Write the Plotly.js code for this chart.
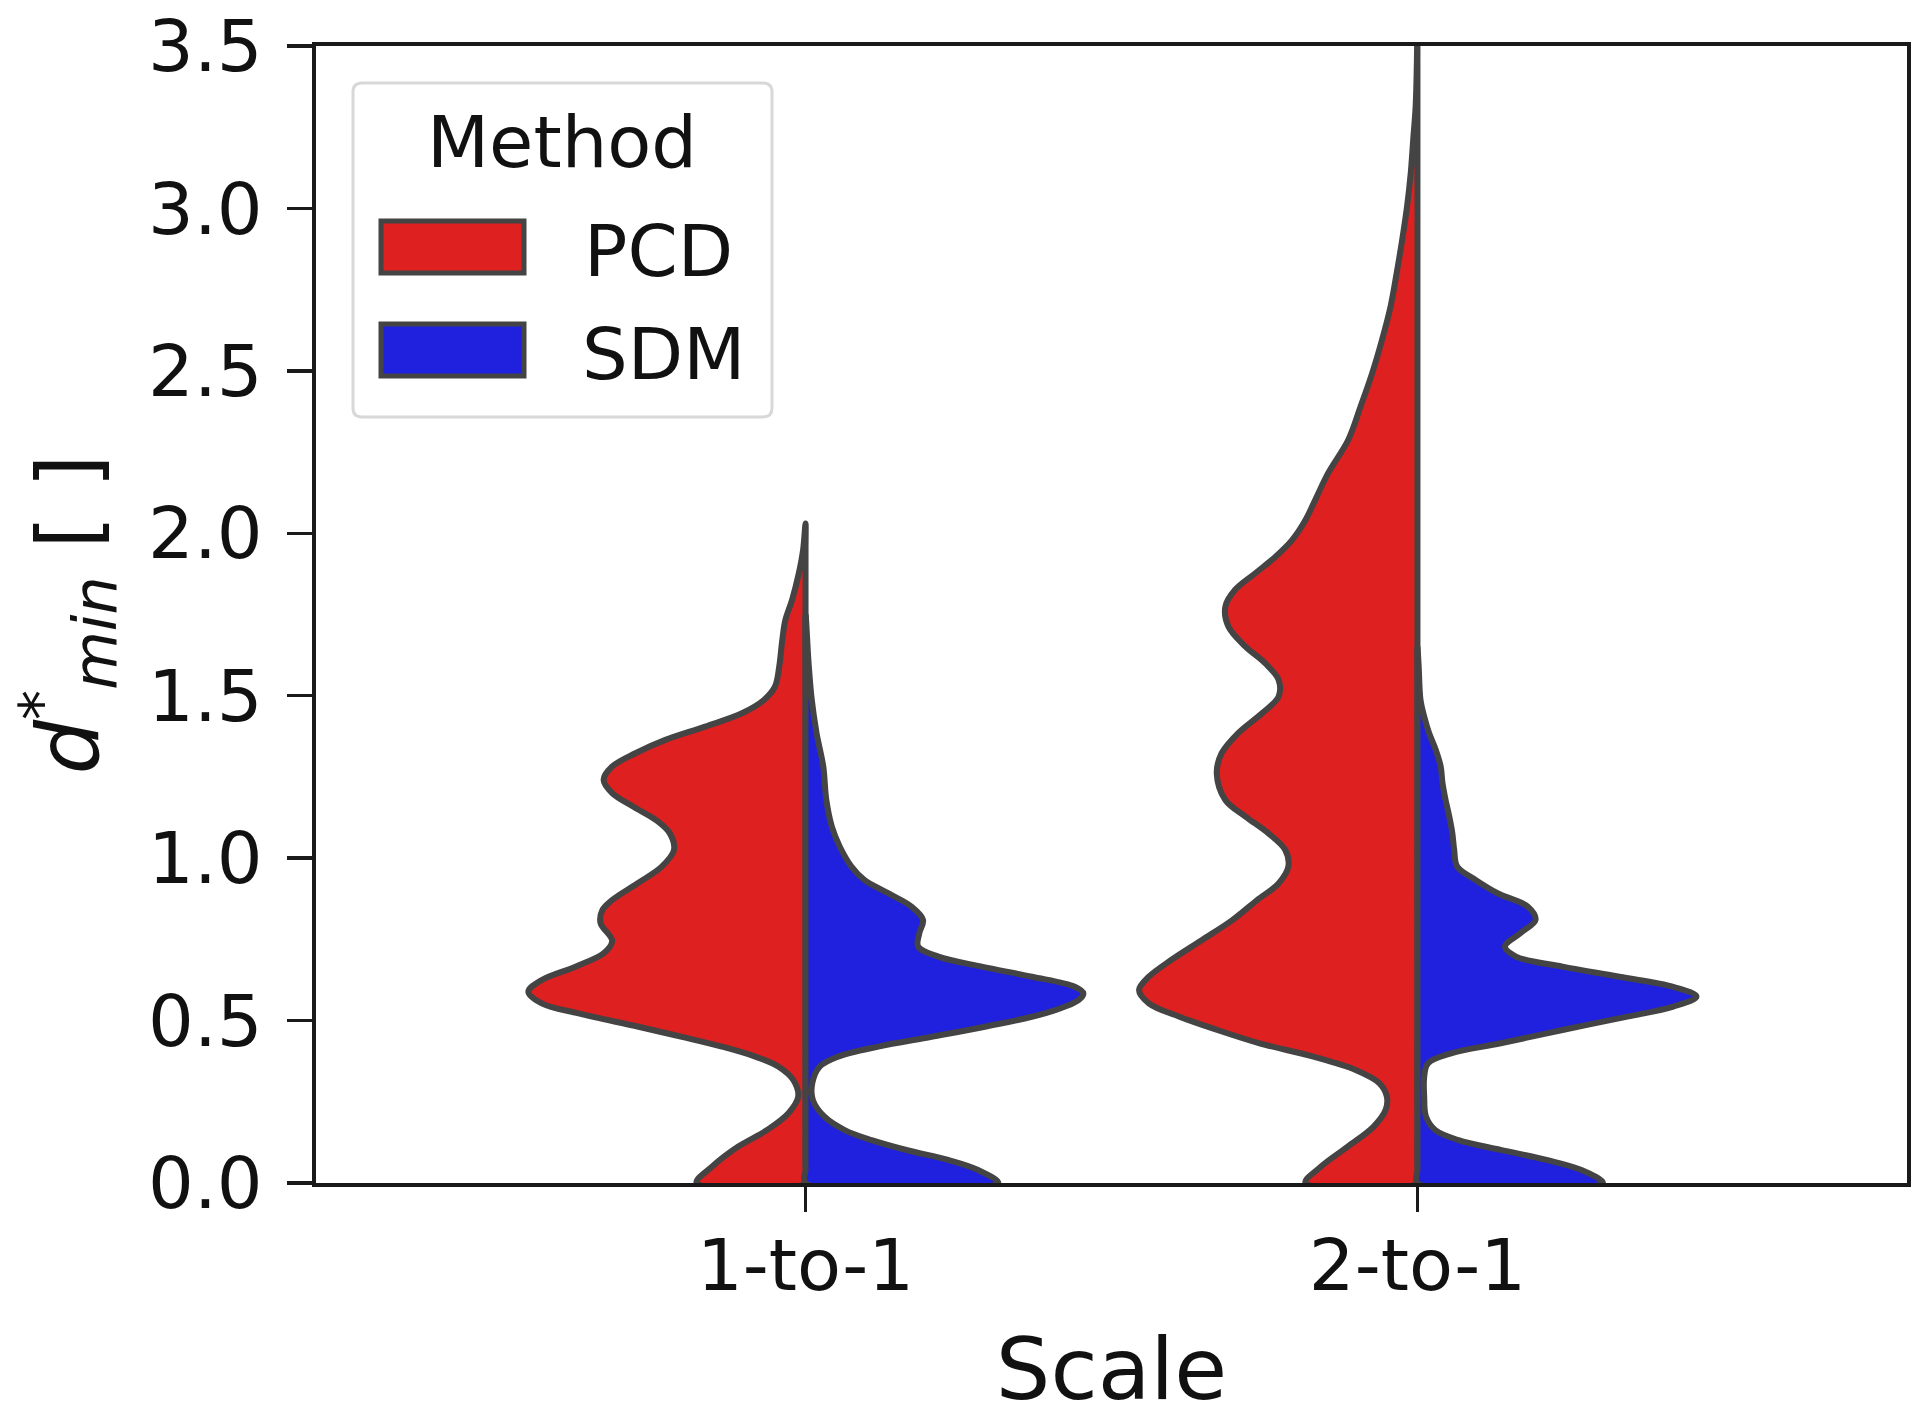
<!DOCTYPE html>
<html>
<head>
<meta charset="utf-8">
<script src="https://cdn.plot.ly/plotly-3.0.1.min.js"></script>
<style>html,body{margin:0;padding:0;background:#fff;}#chart{width:1920px;height:1419px;}</style>
</head>
<body>
<div id="chart"></div>
<script>
// ---- data (half-violin density widths, in category-axis units) ----
const categories = ["1-to-1", "2-to-1"];
const methods = ["PCD", "SDM"];
const yTicks = [0, 0.5, 1.0, 1.5, 2.0, 2.5, 3.0, 3.5];

// 1-to-1, PCD (left half)
const pcd1_y = [0.00,0.05,0.112,0.163,0.215,0.266,0.317,0.358,0.389,0.42,0.45,0.481,0.522,0.553,0.589,0.625,0.666,0.707,0.745,0.80,0.84,0.871,0.922,0.974,1.025,1.077,1.118,1.159,1.20,1.241,1.282,1.323,1.364,1.405,1.446,1.487,1.528,1.59,1.672,1.733,1.795,1.877,1.949,2.03];
const pcd1_w = [0.178,0.153,0.110,0.063,0.028,0.012,0.020,0.044,0.082,0.137,0.202,0.273,0.371,0.431,0.453,0.431,0.376,0.330,0.316,0.335,0.332,0.316,0.275,0.235,0.215,0.222,0.245,0.282,0.316,0.330,0.316,0.278,0.229,0.164,0.104,0.068,0.050,0.043,0.038,0.033,0.022,0.011,0.004,0.0];

// 1-to-1, SDM (right half)
const sdm1_y = [0.00,0.04,0.071,0.10,0.132,0.163,0.204,0.255,0.307,0.358,0.389,0.42,0.45,0.481,0.522,0.563,0.584,0.604,0.635,0.666,0.697,0.728,0.769,0.81,0.851,0.892,0.933,0.974,1.035,1.097,1.179,1.282,1.385,1.49,1.60,1.75];
const sdm1_w = [0.315,0.282,0.233,0.168,0.108,0.064,0.031,0.012,0.011,0.023,0.053,0.119,0.206,0.293,0.391,0.446,0.454,0.440,0.370,0.288,0.217,0.184,0.186,0.192,0.173,0.135,0.096,0.075,0.056,0.043,0.034,0.029,0.018,0.010,0.005,0.0];

// 2-to-1, PCD (left half)
const pcd2_y = [0.00,0.05,0.112,0.173,0.225,0.266,0.307,0.348,0.389,0.43,0.471,0.512,0.553,0.594,0.635,0.687,0.748,0.81,0.871,0.922,0.974,1.025,1.077,1.128,1.179,1.261,1.323,1.385,1.446,1.497,1.549,1.60,1.651,1.713,1.774,1.826,1.877,1.928,1.979,2.041,2.103,2.185,2.288,2.39,2.493,2.595,2.698,2.801,2.903,3.006,3.109,3.211,3.314,3.45,3.6];
const pcd2_w = [0.183,0.158,0.114,0.072,0.052,0.050,0.062,0.101,0.170,0.258,0.327,0.389,0.439,0.455,0.439,0.402,0.352,0.302,0.262,0.227,0.211,0.216,0.244,0.281,0.314,0.328,0.320,0.293,0.254,0.227,0.227,0.249,0.281,0.309,0.314,0.298,0.265,0.232,0.205,0.183,0.167,0.146,0.113,0.093,0.074,0.058,0.044,0.034,0.025,0.017,0.011,0.007,0.003,0.001,0.0];

// 2-to-1, SDM (right half)
const sdm2_y = [0.00,0.04,0.071,0.102,0.132,0.163,0.204,0.266,0.327,0.368,0.399,0.43,0.471,0.512,0.543,0.574,0.604,0.635,0.666,0.697,0.728,0.769,0.81,0.851,0.892,0.933,0.974,1.025,1.077,1.128,1.179,1.23,1.282,1.333,1.385,1.436,1.487,1.59,1.65];
const sdm2_w = [0.303,0.268,0.211,0.136,0.067,0.029,0.014,0.011,0.011,0.017,0.055,0.136,0.237,0.343,0.418,0.456,0.418,0.330,0.237,0.161,0.143,0.168,0.193,0.180,0.131,0.095,0.065,0.060,0.057,0.052,0.046,0.041,0.038,0.030,0.019,0.011,0.005,0.002,0.0];

// ---- styling ----
const FONT = "DejaVu Sans";
const colors = {PCD: "#DF2020", SDM: "#2020DF"};
const edge = "#444444";
const W = 1920, H = 1419;
const M = {l: 316, r: 13, t: 46, b: 236};

function halfViolin(catIndex, ys, ws, side, method) {
  const x = [], y = [];
  const add = (a, b) => {
    const n = x.length;
    if (n && Math.abs(x[n - 1] - a) < 1e-9 && Math.abs(y[n - 1] - b) < 1e-9) return;
    x.push(a); y.push(b);
  };
  add(catIndex, ys[0]);
  for (let i = 0; i < ys.length; i++) add(catIndex + side * ws[i], ys[i]);
  // return straight down the centre line through every level
  for (let i = ys.length - 1; i >= 0; i--) add(catIndex, ys[i]);
  return {
    type: "scatter", mode: "lines", x: x, y: y, name: method,
    fill: "toself", fillcolor: colors[method],
    line: {color: edge, width: 6, shape: "spline", smoothing: 1.0},
    showlegend: false, hoverinfo: "skip"
  };
}

const traces = [
  halfViolin(0, pcd1_y, pcd1_w, -1, methods[0]),
  halfViolin(0, sdm1_y, sdm1_w, +1, methods[1]),
  halfViolin(1, pcd2_y, pcd2_w, -1, methods[0]),
  halfViolin(1, sdm2_y, sdm2_w, +1, methods[1])
];

// ---- matplotlib-style legend (paper coords from pixel positions) ----
const pw = W - M.l - M.r, ph = H - M.t - M.b;
const px2x = p => (p - M.l) / pw;
const px2y = p => (H - M.b - p) / ph;
function roundRectPath(x0, y0, x1, y1, r) {
  const P = (a, b) => px2x(a).toFixed(5) + "," + px2y(b).toFixed(5);
  return "M" + P(x0 + r, y0) + " L" + P(x1 - r, y0) + " Q" + P(x1, y0) + " " + P(x1, y0 + r) +
    " L" + P(x1, y1 - r) + " Q" + P(x1, y1) + " " + P(x1 - r, y1) +
    " L" + P(x0 + r, y1) + " Q" + P(x0, y1) + " " + P(x0, y1 - r) +
    " L" + P(x0, y0 + r) + " Q" + P(x0, y0) + " " + P(x0 + r, y0) + " Z";
}
const shapes = [
  {type: "path", xref: "paper", yref: "paper", path: roundRectPath(353, 83, 772, 417, 9),
   fillcolor: "rgba(255,255,255,0.8)", line: {color: "#d8d8d8", width: 3}, layer: "above"},
  {type: "rect", xref: "paper", yref: "paper", x0: px2x(381), x1: px2x(524), y0: px2y(273), y1: px2y(221),
   fillcolor: colors.PCD, line: {color: edge, width: 5}, layer: "above"},
  {type: "rect", xref: "paper", yref: "paper", x0: px2x(381), x1: px2x(524), y0: px2y(376), y1: px2y(324),
   fillcolor: colors.SDM, line: {color: edge, width: 5}, layer: "above"}
];
const annotations = [
  {xref: "paper", yref: "paper", x: px2x(562), y: px2y(142), text: "Method", showarrow: false,
   xanchor: "center", yanchor: "middle", font: {family: FONT, size: 72, color: "#111"}},
  {xref: "paper", yref: "paper", x: px2x(582), y: px2y(251), text: methods[0], showarrow: false,
   xanchor: "left", yanchor: "middle", font: {family: FONT, size: 72, color: "#111"}},
  {xref: "paper", yref: "paper", x: px2x(580), y: px2y(354), text: methods[1], showarrow: false,
   xanchor: "left", yanchor: "middle", font: {family: FONT, size: 72, color: "#111"}}
];

const layout = {
  width: W, height: H,
  margin: M,
  paper_bgcolor: "#fff", plot_bgcolor: "#fff",
  font: {family: FONT, size: 72, color: "#111"},
  showlegend: false,
  xaxis: {
    range: [-0.8, 1.8], tickvals: [0, 1], ticktext: categories,
    showgrid: false, zeroline: false,
    showline: true, mirror: true, linecolor: "#1a1a1a", linewidth: 4,
    ticks: "outside", ticklen: 25, tickwidth: 3.5, tickcolor: "#1a1a1a",
    ticklabelstandoff: -8,
    tickfont: {family: FONT, size: 72, color: "#111"},
    title: {text: "Scale", font: {family: FONT, size: 86, color: "#111"}, standoff: 40}
  },
  yaxis: {
    range: [0, 3.5], tickvals: yTicks, tickformat: ".1f",
    showgrid: false, zeroline: false,
    showline: true, mirror: true, linecolor: "#1a1a1a", linewidth: 4,
    ticks: "outside", ticklen: 25, tickwidth: 3.5, tickcolor: "#1a1a1a",
    ticklabelstandoff: 10,
    tickfont: {family: FONT, size: 72, color: "#111"},
    title: {text: "<i>d</i><sup>*</sup><sub><i>min</i></sub> [ ]", font: {family: FONT, size: 86, color: "#111"}, standoff: 22}
  },
  shapes: shapes,
  annotations: annotations
};

Plotly.newPlot("chart", traces, layout, {staticPlot: true, displayModeBar: false});
</script>
</body>
</html>
